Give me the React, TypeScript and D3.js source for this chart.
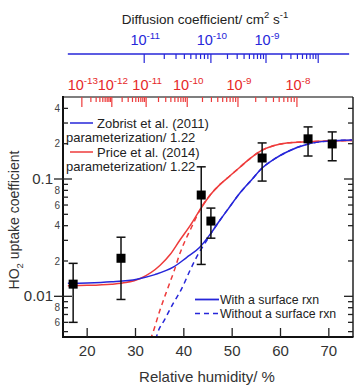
import React from 'react';
import * as d3 from 'd3';

// measured HO2 uptake coefficients
const rhObs = [17.1, 27.0, 43.6, 45.6, 56.2, 65.7, 70.7];
const gammaObs = [0.0127, 0.0211, 0.073, 0.0438, 0.151, 0.22, 0.199];
const gammaHi = [0.0191, 0.0319, 0.127, 0.0565, 0.203, 0.278, 0.252];
const gammaLo = [0.006, 0.0094, 0.0187, 0.0313, 0.096, 0.157, 0.143];

// Zobrist et al. (2011) parameterization, with a surface reaction
const rhZobrist = [16, 20, 25, 30.3, 34, 37.8, 40.5, 43.3, 45.5, 47.5, 49.5, 51.6, 54, 56.2, 58.7, 61.3, 65.7, 70.2, 74.8];
const gammaZobrist = [0.0129, 0.013, 0.0133, 0.014, 0.0153, 0.0177, 0.0213, 0.0262, 0.034, 0.0447, 0.058, 0.0759, 0.098, 0.124, 0.148, 0.17, 0.199, 0.211, 0.215];
// ... without a surface reaction
const rhZobristBulk = [34.2, 34.6, 36, 37.8, 39.5, 41.3, 43, 44.8, 46.3, 47.5, 49.5, 51.6, 54, 56.2, 58.7, 61.3, 65.7, 70.2, 74.8];
const gammaZobristBulk = [0.0043, 0.0049, 0.0063, 0.0087, 0.0115, 0.0167, 0.023, 0.0302, 0.038, 0.0447, 0.058, 0.0759, 0.098, 0.124, 0.148, 0.17, 0.199, 0.211, 0.215];

// Price et al. (2014) parameterization
const rhPrice = [16, 20, 25, 28, 31, 35.1, 37.2, 39.2, 41.3, 43.3, 45.5, 47.5, 49.5, 51.6, 54, 56.2, 58.7, 61.3, 65.7, 70.2, 74.8];
const gammaPrice = [0.0123, 0.0124, 0.0127, 0.0131, 0.0142, 0.0184, 0.0228, 0.0302, 0.04, 0.0543, 0.0735, 0.09, 0.106, 0.126, 0.153, 0.176, 0.193, 0.203, 0.208, 0.211, 0.213];
const rhPriceBulk = [33.1, 33.6, 35, 36.5, 38, 39.2, 40.3, 41.3, 42.3, 43.3, 45.5, 47.5, 49.5, 51.6, 54, 56.2, 58.7, 61.3, 65.7, 70.2, 74.8];
const gammaPriceBulk = [0.0043, 0.0049, 0.0075, 0.0112, 0.0165, 0.0233, 0.03, 0.0366, 0.0447, 0.0543, 0.0735, 0.09, 0.106, 0.126, 0.153, 0.176, 0.193, 0.203, 0.208, 0.211, 0.213];

// diffusion coefficient decades and the RH where each is reached
const zobristExp = [-11, -10, -9, -8];
const zobristExpRH = [31.8, 45.6, 57.0, 67.8];
const priceExp = [-13, -12, -11, -10, -9, -8];
const priceExpRH = [18.9, 25.1, 32.2, 40.7, 51.2, 63.4];
const priceAxisEndRH = 66.8;

const xTicks = [20, 30, 40, 50, 60, 70];
const yTicks = [0.005, 0.006, 0.007, 0.008, 0.009, 0.01, 0.02, 0.03, 0.04, 0.05, 0.06, 0.07, 0.08, 0.09, 0.1, 0.2, 0.3, 0.4];
const yMajorLabels: [number, string][] = [[0.01, '0.01'], [0.1, '0.1']];
const yMinorLabels: [number, string][] = [[0.006, '6'], [0.008, '8'], [0.02, '2'], [0.04, '4'], [0.06, '6'], [0.08, '8'], [0.2, '2'], [0.4, '4']];

const BLUE = '#2626d9';
const RED = '#ee3b3b';
const RED_TEXT = '#e62828';
const FONT = 'Liberation Sans, Arial, Helvetica, sans-serif';

type Tick = { rh: number; major: boolean };

// ticks of a log diffusion axis laid along RH, decade by decade
function diffusionTicks(rhs: number[], endRH?: number): Tick[] {
  const ticks: Tick[] = [];
  for (let i = 0; i < rhs.length - 1; i++) {
    const a = rhs[i], b = rhs[i + 1];
    for (let k = 1; k < 10; k++) ticks.push({ rh: a + (b - a) * Math.log10(k), major: k === 1 });
  }
  const last = rhs[rhs.length - 1];
  ticks.push({ rh: last, major: true });
  if (endRH !== undefined) {
    const span = last - rhs[rhs.length - 2];
    for (let k = 2; k < 10; k++) {
      const rh = last + span * Math.log10(k);
      if (rh <= endRH) ticks.push({ rh, major: false });
    }
  }
  return ticks;
}

function Pow({ x, y, exp, size, fill }: { x: number; y: number; exp: number; size: number; fill: string }) {
  return (
    <text x={x} y={y} textAnchor="middle" fontSize={size} fill={fill} fontFamily={FONT}>
      10<tspan dy={-size * 0.42} fontSize={size * 0.68}>{exp}</tspan>
    </text>
  );
}

export default function App() {
  const W = 357, H = 387;
  const left = 63, right = 353, top = 97, bottom = 337;

  const x = d3.scaleLinear().domain([15, 75]).range([left, right]);
  const y = d3.scaleLog().domain([0.0045, 0.5]).range([bottom, top]);

  const line = d3.line<number>().curve(d3.curveMonotoneX);
  const path = (rh: number[], g: number[]) => line.x((_, i) => x(rh[i])).y((_, i) => y(g[i]))(rh.map((_, i) => i)) || '';

  const blueTicks = diffusionTicks(zobristExpRH);
  const redTicks = diffusionTicks(priceExpRH, priceAxisEndRH);
  const blueY = 54;

  return (
    <svg width={W} height={H} style={{ position: 'absolute', left: 0, top: 0, background: '#fff' }}>
      <defs>
        <clipPath id="plot">
          <rect x={left} y={top} width={right - left} height={bottom - top} />
        </clipPath>
      </defs>

      {/* top title */}
      <text x={205} y={24} textAnchor="middle" fontSize={13.5} fill="#222" fontFamily={FONT}>
        Diffusion coefficient/ cm<tspan dy={-6} fontSize={9.5}>2</tspan>
        <tspan dy={6}> s</tspan>
        <tspan dy={-6} fontSize={9.5}>-1</tspan>
      </text>

      {/* Zobrist diffusion axis */}
      <line x1={x(16)} x2={x(74.2)} y1={blueY} y2={blueY} stroke={BLUE} strokeWidth={1.3} />
      {blueTicks.map((t, i) => (
        <line key={i} x1={x(t.rh)} x2={x(t.rh)} y1={blueY} y2={blueY + (t.major ? 9 : 5)} stroke={BLUE} strokeWidth={1.2} />
      ))}
      {zobristExp.slice(0, 3).map((e, i) => (
        <Pow key={e} x={x(zobristExpRH[i]) + 1} y={45} exp={e} size={14.5} fill={BLUE} />
      ))}

      {/* Price diffusion axis labels */}
      {priceExp.map((e, i) => (
        <Pow key={e} x={x(priceExpRH[i]) + 1} y={90} exp={e} size={14.5} fill={RED_TEXT} />
      ))}

      {/* model curves */}
      <g clipPath="url(#plot)" fill="none" strokeWidth={1.5}>
        <path d={path(rhZobristBulk, gammaZobristBulk)} stroke={BLUE} strokeDasharray="5,4" />
        <path d={path(rhPriceBulk, gammaPriceBulk)} stroke={RED} strokeDasharray="5,4" />
        <path d={path(rhPrice, gammaPrice)} stroke={RED} />
        <path d={path(rhZobrist, gammaZobrist)} stroke={BLUE} />
      </g>

      {/* observations */}
      <g stroke="#111" strokeWidth={1.5}>
        {rhObs.map((rh, i) => {
          const cx = x(rh);
          return (
            <g key={i}>
              <line x1={cx} x2={cx} y1={y(gammaHi[i])} y2={y(gammaLo[i])} />
              <line x1={cx - 4.5} x2={cx + 4.5} y1={y(gammaHi[i])} y2={y(gammaHi[i])} />
              <line x1={cx - 4.5} x2={cx + 4.5} y1={y(gammaLo[i])} y2={y(gammaLo[i])} />
              <rect x={cx - 4.5} y={y(gammaObs[i]) - 4.5} width={9} height={9} fill="#000" stroke="none" />
            </g>
          );
        })}
      </g>

      {/* frame */}
      <line x1={left} x2={right} y1={top} y2={top} stroke="#555" strokeWidth={1.5} />
      <line x1={right} x2={right} y1={top} y2={bottom} stroke="#222" strokeWidth={1.5} />
      <line x1={left} x2={left} y1={top - 1} y2={bottom + 1} stroke="#111" strokeWidth={2} />
      <line x1={left - 1} x2={right + 0.5} y1={bottom} y2={bottom} stroke="#111" strokeWidth={2} />

      {/* Price axis ticks along the top of the frame */}
      {redTicks.map((t, i) => (
        <line key={i} x1={x(t.rh)} x2={x(t.rh)} y1={top} y2={top + (t.major ? 10 : 5)} stroke={RED} strokeWidth={1.2} />
      ))}

      {/* y ticks, left and right */}
      {yTicks.map(v => {
        const major = v === 0.01 || v === 0.1;
        return (
          <g key={v} stroke="#222" strokeWidth={1.3}>
            <line x1={major ? left - 9 : left} x2={left + (major ? 9 : 5)} y1={y(v)} y2={y(v)} />
            <line x1={right} x2={right - (major ? 9 : 5)} y1={y(v)} y2={y(v)} />
          </g>
        );
      })}
      {yMajorLabels.map(([v, s]) => (
        <text key={s} x={53} y={y(v) + 5} textAnchor="end" fontSize={15} fill="#333" fontFamily={FONT}>{s}</text>
      ))}
      {yMinorLabels.map(([v, s], i) => (
        <text key={i} x={60} y={y(v) + 3.5} textAnchor="end" fontSize={10} fill="#444" fontFamily={FONT}>{s}</text>
      ))}

      {/* x ticks */}
      {xTicks.map(t => (
        <g key={t}>
          <line x1={x(t)} x2={x(t)} y1={bottom} y2={bottom - 9} stroke="#222" strokeWidth={1.3} />
          <text x={x(t)} y={356} textAnchor="middle" fontSize={15} fill="#333" fontFamily={FONT}>{t}</text>
        </g>
      ))}

      {/* axis titles */}
      <text x={207} y={382} textAnchor="middle" fontSize={15} fill="#333" fontFamily={FONT}>Relative humidity/ %</text>
      <text transform="translate(19,220) rotate(-90)" textAnchor="middle" fontSize={14} fill="#333" fontFamily={FONT}>
        HO<tspan dy={4} fontSize={9.5}>2</tspan><tspan dy={-4}> uptake coefficient</tspan>
      </text>

      {/* legend: parameterizations */}
      <g fontFamily={FONT} fontSize={13} fill="#222">
        <line x1={70} x2={93} y1={123} y2={123} stroke={BLUE} strokeWidth={1.5} />
        <text x={97} y={127.5}>Zobrist et al. (2011)</text>
        <text x={66} y={141.5}>parameterization/ 1.22</text>
        <line x1={70} x2={93} y1={152} y2={152} stroke={RED} strokeWidth={1.5} />
        <text x={97} y={156.5}>Price et al. (2014)</text>
        <text x={66} y={170.5}>parameterization/ 1.22</text>
      </g>

      {/* legend: surface reaction */}
      <g fontFamily={FONT} fontSize={12.3} fill="#222">
        <line x1={195} x2={219} y1={299.5} y2={299.5} stroke={BLUE} strokeWidth={1.8} />
        <text x={220} y={303.8}>With a surface rxn</text>
        <line x1={195} x2={219} y1={313.5} y2={313.5} stroke={BLUE} strokeWidth={1.5} strokeDasharray="5,4" />
        <text x={220} y={317.8}>Without a surface rxn</text>
      </g>
    </svg>
  );
}
